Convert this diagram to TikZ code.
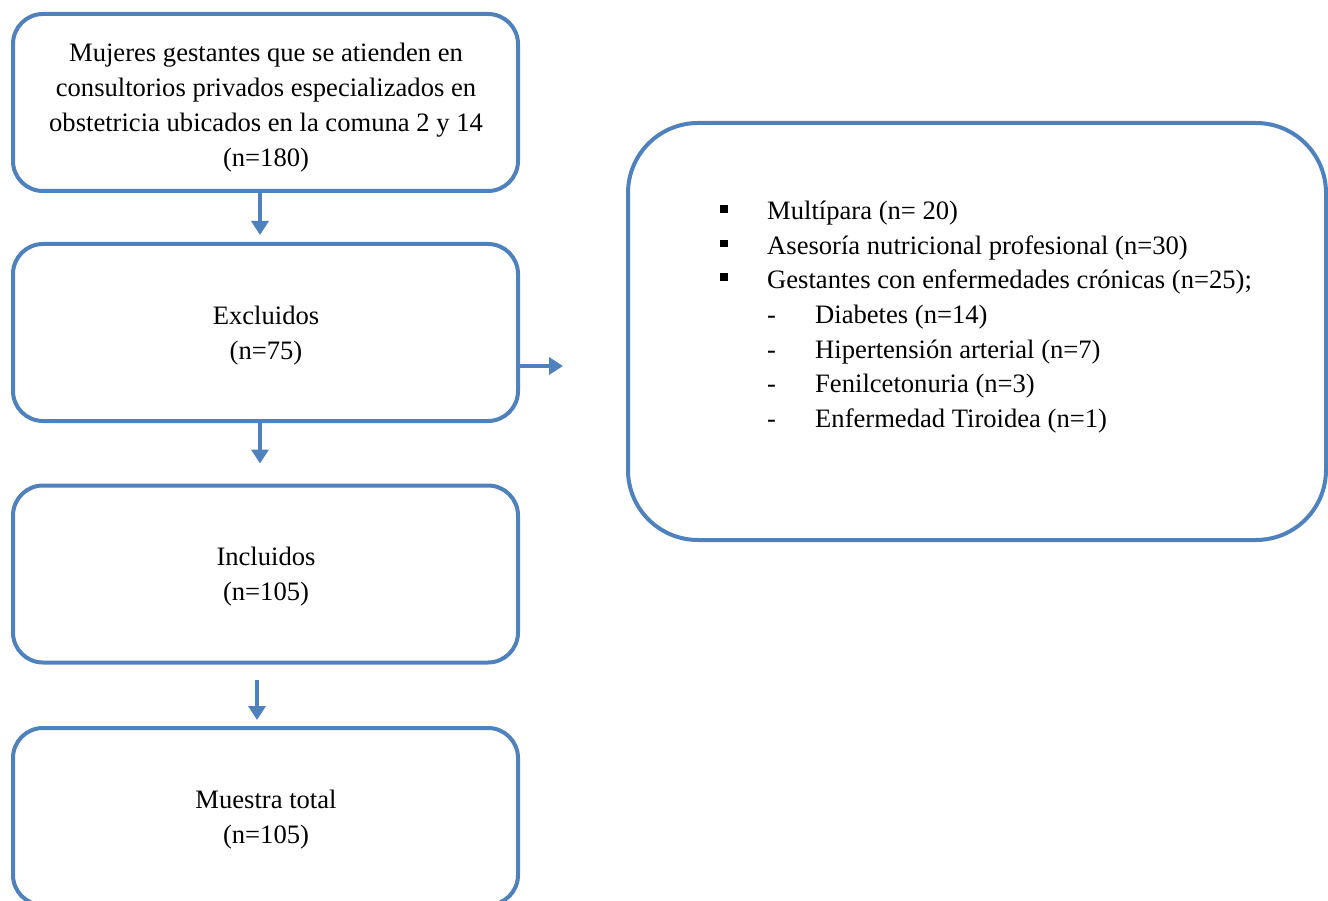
\documentclass[tikz,border=0pt]{standalone}
\usepackage{fontspec}
\setmainfont{Liberation Serif}
\usetikzlibrary{arrows.meta}
\definecolor{boxblue}{RGB}{79,129,189}
\tikzset{
  flowbox/.style={draw=boxblue, line width=4pt, rounded corners=30pt, minimum width=505pt, minimum height=177pt, inner sep=0pt},
  boxtext/.style={inner sep=0pt, align=center, font=\fontsize{26.6}{35}\selectfont},
  arr/.style={draw=boxblue, line width=4pt, -{Triangle[width=17pt,length=14pt]}},
  itemtext/.style={anchor=base west, inner sep=0pt, font=\fontsize{26.6}{35}\selectfont},
  sq/.style={fill=black, minimum size=7.5pt, inner sep=0pt}
}
\begin{document}
\begin{tikzpicture}[x=1pt,y=-1pt]
\clip (0,0) rectangle (1328,901);
\fill[white] (0,0) rectangle (1328,901);
\node[flowbox] (b1) at (265.5,102.5) {};
\node[flowbox] (b2) at (265.5,332.5) {};
\node[flowbox] (b3) at (265.5,574) {};
\node[flowbox] (b4) at (265.5,816.5) {};
\node[boxtext] (b1t) at (266,108) {Mujeres gestantes que se atienden en\\consultorios privados especializados en\\obstetricia ubicados en la comuna 2 y 14\\(n=180)};
\node[boxtext] (b2t) at (266,336) {Excluidos\\(n=75)};
\node[boxtext] (b3t) at (266,576.5) {Incluidos\\(n=105)};
\node[boxtext] (b4t) at (266,819.5) {Muestra total\\(n=105)};
\node[draw=boxblue, line width=4pt, rounded corners=70pt, minimum width=698pt, minimum height=417pt, inner sep=0pt] (rb) at (977,331.5) {};
\coordinate (c1) at (260,0);
\coordinate (c3) at (257,0);
\coordinate (cs) at (0,366);
\draw[arr, shorten >=7pt] (b1.south -| c1) -- (b2.north -| c1);
\draw[arr, shorten >=20pt] (b2.south -| c1) -- (b3.north -| c1);
\draw[arr, shorten <=15pt, shorten >=6pt] (b3.south -| c3) -- (b4.north -| c3);
\draw[arr, shorten >=63pt] (b2.east |- cs) -- (rb.west |- cs);
% list
\node[sq] (s1) at (724,209) {};
\node[sq] (s2) at (724,243.5) {};
\node[sq] (s3) at (724,277) {};
\node[itemtext] (t1) at (767,220) {Multípara (n= 20)};
\node[itemtext] (t2) at (767,254.5) {Asesoría nutricional profesional (n=30)};
\node[itemtext] (t3) at (767,289) {Gestantes con enfermedades crónicas (n=25);};
\node[itemtext] (d4) at (767,323.5) {-};
\node[itemtext] (d5) at (767,358) {-};
\node[itemtext] (d6) at (767,392.5) {-};
\node[itemtext] (d7) at (767,427) {-};
\node[itemtext] (t4) at (815,323.5) {Diabetes (n=14)};
\node[itemtext] (t5) at (815,358) {Hipertensión arterial (n=7)};
\node[itemtext] (t6) at (815,392.5) {Fenilcetonuria (n=3)};
\node[itemtext] (t7) at (815,427) {Enfermedad Tiroidea (n=1)};
\end{tikzpicture}
\end{document}
